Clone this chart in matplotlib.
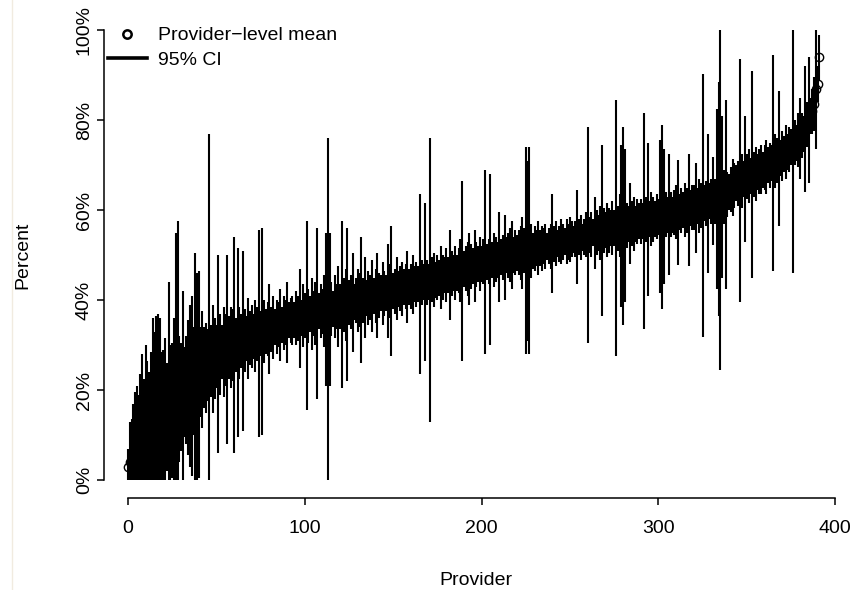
import numpy as np
import matplotlib
matplotlib.use("Agg")
import matplotlib.pyplot as plt
from matplotlib.lines import Line2D

plt.rcParams['font.family'] = ['Liberation Sans', 'DejaVu Sans']

# provider-level means (%), sorted
provider_mean = [
    3, 4, 4.5, 5, 5.5, 6, 7, 7.5, 8, 8.5,
    9, 9.5, 10, 10.5, 11, 11, 11.5, 12, 12, 12.5,
    13, 13.5, 14, 14, 15, 15.5, 16, 17, 17.5, 18,
    18.5, 19, 19.5, 20, 20.5, 21, 21, 22, 22.5, 23,
    23.5, 24, 24.5, 25, 25, 25.5, 26, 26.5, 27, 27,
    27.5, 28, 28, 28.5, 28.5, 29, 29, 29.5, 29.5, 30,
    30, 30, 30.5, 30.5, 31, 31, 31, 31.5, 31.5, 31.5,
    32, 32, 32, 32.5, 32.5, 32.5, 33, 33, 33, 33.5,
    33.5, 33.5, 34, 34, 34, 34.5, 34.5, 34.5, 35, 35,
    35, 35.5, 35.5, 35.5, 35.5, 36, 36, 36, 36, 36.5,
    36.5, 36.5, 36.5, 37, 37, 37, 37, 37, 37.5, 37.5,
    37.5, 37.5, 38, 38, 38, 38, 38, 38.5, 38.5, 38.5,
    38.5, 39, 39, 39, 39, 39.5, 39.5, 39.5, 39.5, 40,
    40, 40, 40, 40, 40.5, 40.5, 40.5, 40.5, 41, 41,
    41, 41, 41, 41.5, 41.5, 41.5, 41.5, 42, 42, 42,
    42, 42, 42.5, 42.5, 42.5, 42.5, 43, 43, 43, 43,
    43, 43.5, 43.5, 43.5, 43.5, 43.5, 44, 44, 44, 44,
    44, 44.5, 44.5, 44.5, 44.5, 45, 45, 45, 45, 45.5,
    45.5, 45.5, 45.5, 46, 46, 46, 46, 46.5, 46.5, 46.5,
    47, 47, 47, 47, 47.5, 47.5, 47.5, 48, 48, 48,
    48, 48.5, 48.5, 48.5, 48.5, 49, 49, 49, 49, 49,
    49.5, 49.5, 49.5, 49.5, 50, 50, 50, 50, 50, 50.5,
    50.5, 50.5, 50.5, 50.5, 51, 51, 51, 51, 51, 51,
    51.5, 51.5, 51.5, 51.5, 51.5, 52, 52, 52, 52, 52,
    52.5, 52.5, 52.5, 52.5, 52.5, 53, 53, 53, 53, 53,
    53.5, 53.5, 53.5, 53.5, 54, 54, 54, 54, 54, 54.5,
    54.5, 54.5, 54.5, 55, 55, 55, 55, 55, 55.5, 55.5,
    55.5, 55.5, 55.5, 56, 56, 56, 56, 56, 56.5, 56.5,
    56.5, 56.5, 56.5, 57, 57, 57, 57, 57, 57.5, 57.5,
    57.5, 57.5, 57.5, 58, 58, 58, 58, 58, 58, 58.5,
    58.5, 58.5, 58.5, 58.5, 59, 59, 59, 59, 59, 59.5,
    59.5, 59.5, 59.5, 60, 60, 60, 60, 60, 60.5, 60.5,
    60.5, 60.5, 61, 61, 61, 61, 61.5, 61.5, 61.5, 62,
    62, 62, 62, 62.5, 62.5, 62.5, 63, 63, 63.5, 63.5,
    64, 64.5, 65, 65.5, 66, 66, 66.5, 66.5, 67, 67,
    67.5, 67.5, 67.5, 68, 68, 68, 68.5, 68.5, 69, 69,
    69.5, 69.5, 70, 70, 70.5, 70.5, 71, 71, 71.5, 71.5,
    72, 72.5, 73, 73, 73.5, 74, 74.5, 75, 75, 75.5,
    76, 76.5, 77, 78, 79, 80, 81, 82, 83.5, 87,
    88, 94,
]

# half-width of each 95% CI (%), same order
ci_half = [
    4, 9, 9, 12, 14, 15, 12, 16, 20, 14,
    21, 17, 14, 18, 25, 22, 25, 25, 24, 16,
    16, 18, 12, 30, 15, 15, 20, 38, 40, 14,
    12, 23, 10, 12, 15, 18, 20, 12, 28, 23,
    23, 10, 13, 9, 10, 8, 51, 8, 12, 9,
    7, 22, 9, 6, 10, 8, 21, 7, 9, 8,
    24, 6, 21, 8, 6, 20, 7, 5, 9, 6,
    7, 5, 8, 6, 23, 5, 23, 7, 5, 6,
    10, 5, 7, 4, 6, 5, 8, 4, 6, 5,
    9, 4, 5, 5.5, 4, 6, 5, 11, 4, 7,
    5, 21, 6, 4, 8, 5, 7, 19, 4, 6,
    5, 8, 17, 38, 17, 6, 4, 7, 5, 9,
    5, 18.5, 6, 8, 17, 5, 6, 11, 4, 5,
    7, 6, 14, 5, 9, 4, 6, 5, 8, 4,
    6, 9.5, 5, 4, 7, 5, 4, 10.5, 6, 14.5,
    4, 5, 7, 4, 5, 6, 4, 5, 8, 4,
    5, 6.5, 4, 5, 4, 20, 5, 4, 17.5, 5,
    4, 31.5, 5, 6, 4, 5, 4, 7, 5, 4,
    6, 4, 10, 5, 4, 6, 4, 5, 7, 20,
    4, 5, 6, 8, 5, 4, 8, 5, 4, 6,
    4, 5, 20.5, 4, 5, 19, 4, 6, 5, 4,
    10, 4, 5, 9.5, 4, 5, 6, 7.5, 4, 5,
    4, 5, 6, 8, 5, 23, 20, 23, 6, 4,
    5, 4, 6, 4, 5, 4, 5, 3, 4, 5,
    11, 4, 5, 3, 4, 5, 4, 3, 5, 4,
    5, 4, 3, 4, 10.5, 4, 5, 3, 4, 5,
    24, 4, 5, 3, 8, 5, 4, 6, 19, 5,
    4, 6, 5, 4, 6, 4, 28.5, 5, 7, 18,
    22, 17, 5, 4, 9, 5, 6, 4, 5, 4,
    5, 4, 24, 5, 17, 4, 6, 5, 4, 5,
    4, 17, 20.5, 15, 5, 4, 13.5, 5, 4, 5,
    6, 11.7, 4, 5, 4, 6, 5, 12.5, 4, 5,
    5, 10, 4, 6, 5, 29.2, 4, 5, 15.5, 4,
    5, 9.7, 5, 20, 26, 38, 18, 6, 21, 5,
    4, 5, 6.4, 5, 4, 5, 27, 6, 4, 14,
    5, 6, 4, 23, 5, 6, 4, 5, 5.5, 4,
    5, 6, 4, 5, 4, 24, 6, 5, 15, 4,
    5.5, 4, 6, 4, 5, 4, 28.5, 5, 4, 6,
    9, 5, 4, 14, 5, 14, 4, 5, 6, 13.5,
    4, 5,
]

y_ticks = [0, 20, 40, 60, 80, 100]
y_ticklabels = ['0%', '20%', '40%', '60%', '80%', '100%']
x_ticks = [0, 100, 200, 300, 400]

mean = np.array(provider_mean, dtype=float)
half = np.array(ci_half, dtype=float)
provider = np.arange(len(mean))
lower = np.clip(mean - half, 0, 100)
upper = np.clip(mean + half, 0, 100)

fig = plt.figure(figsize=(8.64, 5.9), dpi=100)
ax = fig.add_axes([104 / 864, 92 / 590, 743 / 864, 486 / 590])

ax.plot(provider, mean, 'o', mfc='none', mec='black', ms=6, mew=1, zorder=2)
ax.vlines(provider, lower, upper, colors='black', linewidth=1.5, zorder=3)

ax.set_xlim(-13.6, 406.64)
ax.set_ylim(-4, 104)

for s in ['top', 'right']:
    ax.spines[s].set_visible(False)
ax.spines['left'].set_bounds(0, 100)
ax.spines['bottom'].set_bounds(0, 400)
ax.spines['left'].set_linewidth(1.1)
ax.spines['bottom'].set_linewidth(1.1)

ax.set_xticks(x_ticks)
ax.set_yticks(y_ticks)
ax.set_yticklabels(y_ticklabels, rotation=90, va='center')
ax.tick_params(axis='both', direction='out', length=5, width=1.1, labelsize=14)
ax.tick_params(axis='x', pad=11)
ax.tick_params(axis='y', pad=3)

ax.set_xlabel('Provider', fontsize=14)
ax.set_ylabel('Percent', fontsize=14)
ax.xaxis.set_label_coords(0.5, -(572 - 498) / 486)
ax.yaxis.set_label_coords((31 - 104) / 743, 0.5)

handles = [
    Line2D([], [], marker='o', linestyle='none', mfc='none', mec='black', ms=6, mew=1.8),
    Line2D([], [], color='black', linewidth=2.6),
]
ax.legend(handles, ['Provider\u2212level mean', '95% CI'], loc='upper left',
          bbox_to_anchor=(0, 1 - 11 / 486), frameon=False, fontsize=14,
          borderaxespad=0, borderpad=0.2, handlelength=2.0,
          handletextpad=0.6, labelspacing=0.36)

# thin border left over from the screenshot
fig.add_artist(Line2D([12 / 864, 12 / 864], [0, 1], color='#f1ebe0', linewidth=1))

fig.savefig('out.png', dpi=100)
